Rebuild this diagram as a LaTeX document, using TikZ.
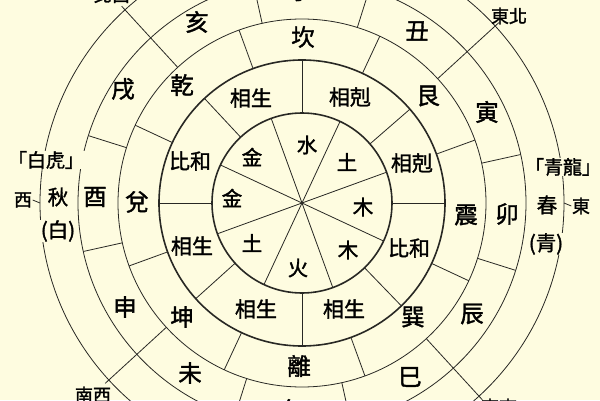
\documentclass[tikz,border=0pt]{standalone}
\usepackage{fontspec}
\newfontfamily\cjk[FakeBold=1.6]{Noto Sans CJK TC}
\definecolor{bg}{RGB}{254,252,224}
\definecolor{ink}{RGB}{40,40,36}
\begin{document}
\begin{tikzpicture}[x=1pt,y=1pt,
  thin line/.style={draw=ink,line width=0.8pt},
  thick ring/.style={draw=ink,line width=1.6pt},
  lab/.style={font=\cjk\fontsize{23.5}{24}\selectfont,inner sep=0pt,text=black},
  rel/.style={font=\cjk\fontsize{21}{21}\selectfont,inner sep=0pt,text=black},
  elem/.style={font=\cjk\fontsize{20.5}{21}\selectfont,inner sep=0pt,text=black},
  side/.style={font=\cjk\fontsize{20.5}{21}\selectfont,inner sep=0.5pt,text=black,fill=bg},
  god/.style={font=\cjk\fontsize{19}{19}\selectfont,inner sep=0.5pt,text=black,fill=bg},
  dir/.style={font=\cjk\fontsize{18}{18}\selectfont,inner sep=0.5pt,text=black}]
\useasboundingbox (0,0) rectangle (600,400);
\fill[bg] (0,0) rectangle (600,400);
\begin{scope}
\clip (0,0) rectangle (600,400);
\begin{scope}[shift={(302,197)}]
  % rings
  \draw[thin line] (0,0) circle[radius=262];
  \draw[thin line] (0,0) circle[radius=224];
  \draw[thin line] (0,0) circle[radius=184];
  \draw[thick ring] (0,0) circle[radius=143];
  \draw[thick ring] (0,0) circle[radius=90];
  % element spokes
  \foreach \a in {20,65,110,155,200,245,290,335}
    \draw[thin line] (0,0) -- (\a:90);
  % relation ring dividers
  \foreach \a in {0,41,90,133,180,222,270,314}
    \draw[thin line] (\a:90) -- (\a:143);
  % trigram ring dividers
  \foreach \a in {20,65,110,155,200,245,290,335}
    \draw[thin line] (\a:143) -- (\a:184);
  % branch ring dividers
  \foreach \a in {12.5,72.5,102.5,162.5,192.5,252.5,282.5,342.5}
    \draw[thin line] (\a:184) -- (\a:224);
  % diagonals
  \foreach \a in {42.5,132.5,222.5,312.5}
    \draw[thin line] (\a:184) -- (\a:267);
  \coordinate (eR) at (0:262);
  \coordinate (wR) at (180:262);
\end{scope}

% elements
\node[elem] (e1) at (307,255) {水};
\node[elem] (e2) at (347,238) {土};
\node[elem] (e3) at (363,193) {木};
\node[elem] (e4) at (348,150) {木};
\node[elem] (e5) at (298,132) {火};
\node[elem] (e6) at (252,157) {土};
\node[elem] (e7) at (232,202) {金};
\node[elem] (e8) at (252,243) {金};

% relations
\node[rel] (r1) at (350,303) {相剋};
\node[rel] (r2) at (251,302) {相生};
\node[rel] (r3) at (190,239) {比和};
\node[rel] (r4) at (192,154) {相生};
\node[rel] (r5) at (256,91) {相生};
\node[rel] (r6) at (344,91) {相生};
\node[rel] (r7) at (409,152) {比和};
\node[rel] (r8) at (412,237) {相剋};

% trigrams
\node[lab] (t1) at (303,363) {坎};
\node[lab] (t2) at (428,304) {艮};
\node[lab] (t3) at (466,185) {震};
\node[lab] (t4) at (413,83) {巽};
\node[lab] (t5) at (299,34) {離};
\node[lab] (t6) at (182,83) {坤};
\node[lab] (t7) at (137,198) {兌};
\node[lab] (t8) at (182,315) {乾};

% branches
\node[lab] (b1) at (301,409) {子};
\node[lab] (b2) at (417,369) {丑};
\node[lab] (b3) at (487,288) {寅};
\node[lab] (b4) at (507,186) {卯};
\node[lab] (b5) at (472,86) {辰};
\node[lab] (b6) at (410,23) {巳};
\node[lab] (b7) at (294,-10) {午};
\node[lab] (b8) at (190,27) {未};
\node[lab] (b9) at (125,93) {申};
\node[lab] (b10) at (95,203) {酉};
\node[lab] (b11) at (123,311) {戌};
\node[lab] (b12) at (197,378) {亥};

% seasons
\node[god] (wg) at (46,240) {「白虎」};
\node[side] (ws) at (58,203) {秋};
\node[side] (wc) at (58,169) {(白)};
\node[god] (eg) at (563,233) {「青龍」};
\node[side] (es) at (547,195) {春};
\node[side] (ec) at (546,156) {(青)};

% directions
\node[dir] (dw) at (23,200) {西};
\node[dir] (de) at (581,194) {東};
\draw[thin line] (wR) -- (dw.east);
\draw[thin line] (eR) -- (de.west);
\node[dir] (dnw) at (112,405) {北西};
\node[dir] (dne) at (509,384) {東北};
\node[dir] (dsw) at (93,5) {南西};
\node[dir] (dse) at (499,-7) {東南};
\end{scope}
\end{tikzpicture}
\end{document}
